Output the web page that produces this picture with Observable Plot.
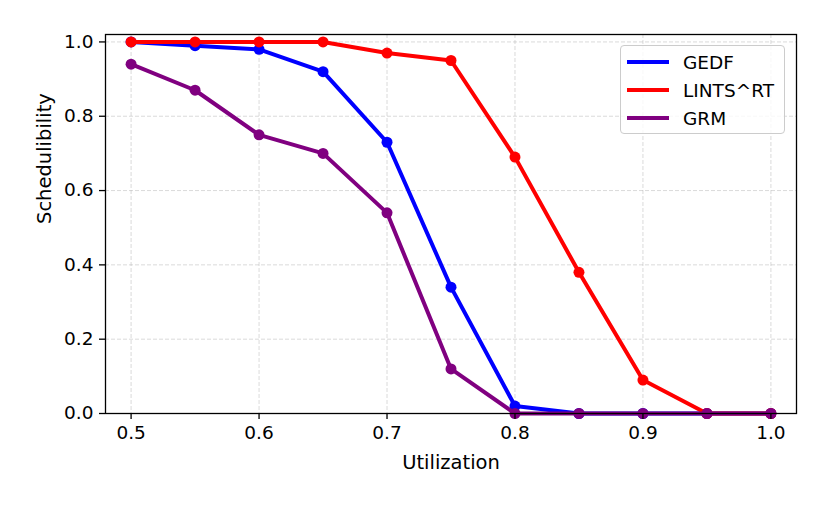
<!DOCTYPE html>
<html>
<head>
<meta charset="utf-8">
<script src="https://cdn.jsdelivr.net/npm/d3@7"></script>
<script src="https://cdn.jsdelivr.net/npm/@observablehq/plot@0.6"></script>
<style>
  body { margin: 0; background: white; }
  #wrap { position: relative; width: 830px; height: 506px; font-family: "DejaVu Sans", sans-serif; }
  #legend {
    position: absolute; left: 620px; top: 45px; width: 165px; height: 89px;
    border: 1px solid #cccccc; border-radius: 4px; background: rgba(255,255,255,0.8);
    box-sizing: border-box; padding-top: 2px;
  }
  .row { display: flex; align-items: center; height: 28px; font-size: 18.5px; color: black; }
  .sw { width: 42px; height: 4px; margin-left: 6px; margin-right: 14px; }
</style>
</head>
<body>
<div id="wrap"><div id="legend"></div></div>
<script>
const utilization = [0.5, 0.55, 0.6, 0.65, 0.7, 0.75, 0.8, 0.85, 0.9, 0.95, 1.0];
const gedf  = [1.0, 0.99, 0.98, 0.92, 0.73, 0.34, 0.02, 0.0, 0.0, 0.0, 0.0];
const lints = [1.0, 1.0, 1.0, 1.0, 0.97, 0.95, 0.69, 0.38, 0.09, 0.0, 0.0];
const grm   = [0.94, 0.87, 0.75, 0.70, 0.54, 0.12, 0.0, 0.0, 0.0, 0.0, 0.0];
const seriesNames = ["GEDF", "LINTS^RT", "GRM"];
const seriesColors = ["#0000ff", "#ff0000", "#800080"];
const xTicks = [0.5, 0.6, 0.7, 0.8, 0.9, 1.0];
const yTicks = [0.0, 0.2, 0.4, 0.6, 0.8, 1.0];

const seriesValues = [gedf, lints, grm];
const series = seriesNames.map((name, i) => ({
  name, color: seriesColors[i],
  rows: utilization.map((u, j) => ({u, v: seriesValues[i][j], s: name}))
}));

const gridStyle = {stroke: "#b0b0b0", strokeOpacity: 0.6, strokeDasharray: "4,2", strokeWidth: 0.8};

const chart = Plot.plot({
  width: 830, height: 506,
  marginLeft: 105, marginRight: 34, marginTop: 34, marginBottom: 93,
  style: {fontFamily: "DejaVu Sans", fontSize: "18.5px", color: "black", background: "white"},
  x: {domain: [0.48, 1.02]},
  y: {domain: [0, 1.02]},
  marks: [
    Plot.gridX(xTicks, gridStyle),
    Plot.gridY(yTicks, gridStyle),
    ...series.flatMap(s => [
      Plot.line(s.rows, {x: "u", y: "v", stroke: s.color, strokeWidth: 4}),
      Plot.dot(s.rows, {x: "u", y: "v", fill: s.color, r: 5.5})
    ]),
    Plot.frame({stroke: "black", strokeWidth: 1.3}),
    Plot.axisX(xTicks, {tickFormat: d3.format(".1f"), tickSize: 6, tickPadding: 6, strokeWidth: 1.3, label: null, fontSize: 18.5}),
    Plot.axisY(yTicks, {tickFormat: d3.format(".1f"), tickSize: 6, tickPadding: 6, strokeWidth: 1.3, label: null, fontSize: 18.5}),
    Plot.text(["Utilization"], {frameAnchor: "bottom", dy: 49, lineAnchor: "middle", fontSize: 19.5, fill: "black"}),
    Plot.text(["Schedulibility"], {frameAnchor: "left", dx: -61, rotate: -90, lineAnchor: "middle", fontSize: 19.5, fill: "black"})
  ]
});
const wrap = document.getElementById("wrap");
wrap.insertBefore(chart, wrap.firstChild);

const legend = document.getElementById("legend");
series.forEach(s => {
  const row = document.createElement("div");
  row.className = "row";
  const sw = document.createElement("div");
  sw.className = "sw";
  sw.style.background = s.color;
  const t = document.createElement("span");
  t.textContent = s.name;
  row.appendChild(sw); row.appendChild(t);
  legend.appendChild(row);
});
</script>
</body>
</html>
